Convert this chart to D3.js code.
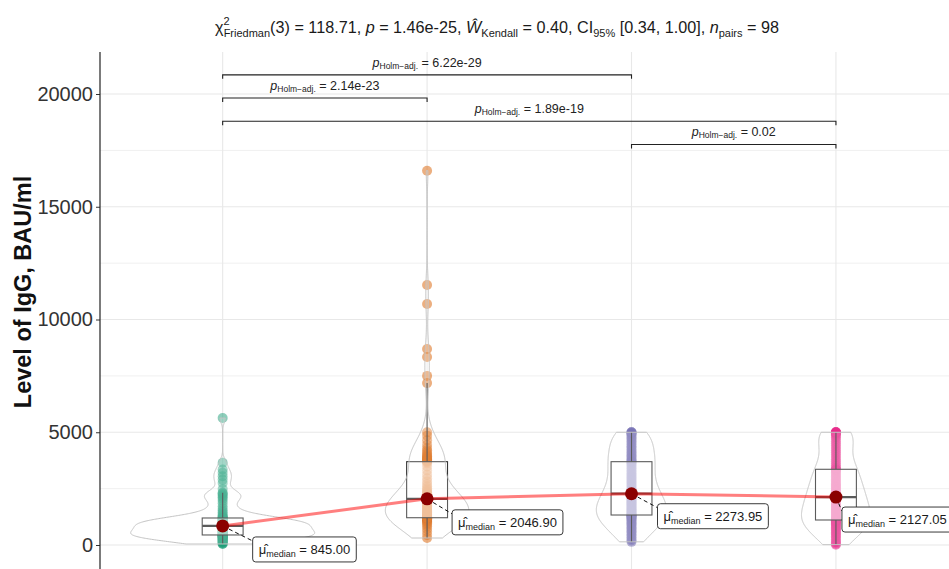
<!DOCTYPE html>
<html>
<head>
<meta charset="utf-8">
<script src="https://cdn.jsdelivr.net/npm/d3@7"></script>
<style>
  body { margin: 0; background: #fff; }
  svg { display: block; }
  text { font-family: "Liberation Sans", Arial, sans-serif; }
</style>
</head>
<body>
<svg id="chart" width="949" height="569"></svg>
<script>
// ---- data -------------------------------------------------------------
const categories = ["Visit 1", "Visit 2", "Visit 3", "Visit 4"];

const visit1 = [45, 60, 85, 110, 140, 165, 190, 210, 235, 255, 275, 290, 310, 325, 340, 355, 370, 385, 395, 405, 415, 425, 432, 438, 443,
  450, 465, 480, 500, 515, 530, 548, 565, 580, 598, 615, 630, 648, 665, 680, 700, 715, 730, 748, 765, 782, 800, 820, 840,
  850, 862, 875, 890, 905, 918, 932, 948, 962, 975, 990, 1005, 1020, 1035, 1050, 1065, 1080, 1098, 1115, 1130, 1148, 1165, 1180, 1192,
  1200, 1230, 1270, 1320, 1380, 1450, 1530, 1620, 1720, 1850, 1960, 2050, 2120, 2180, 2240, 2290, 2320, 2480, 2750, 2900, 3050, 3200, 3350, 3650, 5630];

const visit2 = [310, 450, 600, 720, 820, 900, 960, 1010, 1050, 1080, 1105, 1125, 1140, 1155, 1165, 1175, 1182, 1188, 1193, 1197, 1200, 1203, 1205, 1207, 1208,
  1215, 1240, 1270, 1300, 1330, 1360, 1390, 1420, 1455, 1490, 1525, 1560, 1600, 1640, 1680, 1720, 1760, 1800, 1840, 1880, 1920, 1960, 2000, 2040,
  2053.8, 2070, 2090, 2110, 2130, 2155, 2180, 2205, 2235, 2265, 2300, 2340, 2390, 2450, 2520, 2600, 2700, 2820, 2960, 3120, 3300, 3480, 3620, 3680,
  3700, 3720, 3745, 3770, 3800, 3830, 3865, 3900, 3940, 3990, 4050, 4120, 4200, 4300, 4450, 4650, 4850, 5000, 7180, 7500, 8340, 8690, 10690, 11530, 16600];

const visit3 = [140, 200, 270, 340, 410, 480, 550, 610, 670, 730, 790, 850, 905, 960, 1010, 1060, 1105, 1150, 1190, 1225, 1255, 1280, 1300, 1318, 1326,
  1342, 1380, 1420, 1460, 1500, 1540, 1580, 1620, 1660, 1700, 1740, 1780, 1820, 1860, 1900, 1940, 1980, 2020, 2060, 2100, 2140, 2180, 2220, 2260,
  2287.9, 2340, 2400, 2460, 2520, 2580, 2640, 2700, 2760, 2820, 2880, 2940, 3000, 3060, 3120, 3180, 3250, 3320, 3390, 3460, 3530, 3590, 3640, 3680,
  3700, 3750, 3800, 3860, 3920, 3980, 4040, 4100, 4170, 4240, 4310, 4380, 4450, 4520, 4590, 4660, 4720, 4780, 4840, 4890, 4940, 4970, 5000, 5000, 5000];

const visit4 = [15, 60, 120, 180, 250, 320, 390, 450, 510, 570, 630, 690, 740, 790, 840, 885, 925, 965, 1000, 1030, 1055, 1075, 1090, 1100, 1106,
  1118, 1160, 1200, 1245, 1290, 1335, 1380, 1425, 1470, 1515, 1560, 1605, 1650, 1695, 1740, 1785, 1830, 1875, 1920, 1960, 2000, 2040, 2080, 2115,
  2139.1, 2190, 2240, 2290, 2340, 2390, 2440, 2490, 2540, 2590, 2640, 2690, 2740, 2800, 2860, 2920, 2980, 3040, 3100, 3160, 3220, 3280, 3330, 3350,
  3360, 3430, 3510, 3600, 3700, 3800, 3900, 4000, 4100, 4200, 4300, 4400, 4500, 4600, 4700, 4780, 4850, 4900, 4940, 4970, 5000, 5000, 5000, 5000, 5000];

const yTicks = [0, 5000, 10000, 15000, 20000];

// pairwise comparisons (Holm-adjusted), drawn bottom to top
const pairFrom = [2, 0, 0, 0];
const pairTo   = [3, 3, 1, 2];
const pairP    = ["0.02", "1.89e-19", "2.14e-23", "6.22e-29"];

const groupColors = ["#1B9E77", "#D95F02", "#7570B3", "#E7298A"];

// ---- layout -----------------------------------------------------------
const svg = d3.select("#chart");
const panel = { left: 100, right: 958.6, top: 52, bottom: 620 };

const x = d3.scalePoint().domain(categories).range([panel.left, panel.right]).padding(0.6);
const step = x.step();
const y = d3.scaleLinear().domain([0, 20000]).range([545, 94]);

const groups = [visit1, visit2, visit3, visit4].map(v => v.slice().sort(d3.ascending));

// ---- grid -------------------------------------------------------------
const grid = svg.append("g");
const minorTicks = d3.range(2500, 22500, 5000);
grid.selectAll("line.minor").data(minorTicks).join("line")
  .attr("x1", panel.left).attr("x2", 949)
  .attr("y1", d => y(d)).attr("y2", d => y(d))
  .attr("stroke", "#f0f0f0").attr("stroke-width", 1);
grid.selectAll("line.major").data(yTicks).join("line")
  .attr("x1", panel.left).attr("x2", 949)
  .attr("y1", d => y(d)).attr("y2", d => y(d))
  .attr("stroke", "#e8e8e8").attr("stroke-width", 1.1);
grid.selectAll("line.vert").data(categories).join("line")
  .attr("x1", d => x(d)).attr("x2", d => x(d))
  .attr("y1", panel.top).attr("y2", 569)
  .attr("stroke", "#e8e8e8").attr("stroke-width", 1.1);

// ---- points -----------------------------------------------------------
const pts = svg.append("g");
groups.forEach((vals, i) => {
  pts.selectAll(null).data(vals).join("circle")
    .attr("cx", x(categories[i]))
    .attr("cy", d => y(d))
    .attr("r", 5)
    .attr("fill", groupColors[i])
    .attr("fill-opacity", 0.5);
});

// ---- boxplots ---------------------------------------------------------
const boxHalf = 0.1 * step;
const stats = groups.map(vals => {
  const q1 = d3.quantile(vals, 0.25), med = d3.quantile(vals, 0.5), q3 = d3.quantile(vals, 0.75);
  const iqr = q3 - q1;
  const hi = d3.max(vals.filter(v => v <= q3 + 1.5 * iqr));
  const lo = d3.min(vals.filter(v => v >= q1 - 1.5 * iqr));
  return { q1, med, q3, hi, lo };
});
const boxes = svg.append("g");
stats.forEach((s, i) => {
  const cx = x(categories[i]);
  boxes.append("line").attr("x1", cx).attr("x2", cx).attr("y1", y(s.q3)).attr("y2", y(s.hi))
    .attr("stroke", "#333").attr("stroke-width", 1.1);
  boxes.append("line").attr("x1", cx).attr("x2", cx).attr("y1", y(s.q1)).attr("y2", y(s.lo))
    .attr("stroke", "#333").attr("stroke-width", 1.1);
  boxes.append("rect").attr("x", cx - boxHalf).attr("width", 2 * boxHalf)
    .attr("y", y(s.q3)).attr("height", y(s.q1) - y(s.q3))
    .attr("fill", "#fff").attr("fill-opacity", 0.5)
    .attr("stroke", "#333").attr("stroke-width", 1.1);
  boxes.append("line").attr("x1", cx - boxHalf).attr("x2", cx + boxHalf)
    .attr("y1", y(s.med)).attr("y2", y(s.med))
    .attr("stroke", "#333").attr("stroke-width", 2.2);
});

// ---- violins (gaussian KDE, nrd0 bandwidth, area scaling) ---------------
function density(vals) {
  const n = vals.length;
  const sd = d3.deviation(vals);
  const iqr = d3.quantile(vals, 0.75) - d3.quantile(vals, 0.25);
  const bw = 0.9 * Math.min(sd, iqr / 1.34) * Math.pow(n, -0.2);
  const lo = d3.min(vals), hi = d3.max(vals);
  const k = 1 / (n * bw * Math.sqrt(2 * Math.PI));
  return d3.range(512).map(j => {
    const v = lo + (hi - lo) * j / 511;
    return [v, k * d3.sum(vals, d => Math.exp(-0.5 * ((v - d) / bw) ** 2))];
  });
}
const dens = groups.map(density);
const maxDens = d3.max(dens, d => d3.max(d, e => e[1]));
const violinHalf = 0.45 * step;
const violins = svg.append("g");
dens.forEach((d, i) => {
  const cx = x(categories[i]);
  const area = d3.area()
    .x0(e => cx - e[1] / maxDens * violinHalf)
    .x1(e => cx + e[1] / maxDens * violinHalf)
    .y(e => y(e[0]));
  violins.append("path").attr("d", area(d))
    .attr("fill", "#fff").attr("fill-opacity", 0.2)
    .attr("stroke", "#c4c4c4").attr("stroke-width", 1);
});

// ---- median path and points ---------------------------------------------
const medians = groups.map(v => d3.median(v));
svg.append("path")
  .attr("d", d3.line().x((d, i) => x(categories[i])).y(d => y(d))(medians))
  .attr("fill", "none").attr("stroke", "#ff0000").attr("stroke-opacity", 0.5).attr("stroke-width", 3);

// label offsets (repelled positions) relative to each median point
const labelOffset = [[30, 11], [25, 11], [26, 10], [6, 10]];
const labels = svg.append("g");
medians.forEach((m, i) => {
  const cx = x(categories[i]), cy = y(m);
  const lx = cx + labelOffset[i][0], ly = cy + labelOffset[i][1];
  const g = labels.append("g");
  g.append("line").attr("x1", cx).attr("y1", cy).attr("x2", lx).attr("y2", ly + 4)
    .attr("stroke", "#111").attr("stroke-width", 1).attr("stroke-dasharray", "4,3");
  const t = g.append("text").attr("x", lx + 6).attr("y", ly + 17).attr("font-size", 13).attr("fill", "#1a1a1a");
  t.append("tspan").text("μ̂");
  t.append("tspan").attr("font-size", 9).attr("dy", 3).text("median");
  t.append("tspan").attr("dy", -3).text(" = " + m.toFixed(2));
  const w = t.node().getComputedTextLength();
  g.insert("rect", "text").attr("x", lx).attr("y", ly).attr("width", w + 12).attr("height", 25)
    .attr("rx", 3).attr("fill", "#fff").attr("stroke", "#222").attr("stroke-width", 0.9);
});
svg.append("g").selectAll("circle").data(medians).join("circle")
  .attr("cx", (d, i) => x(categories[i])).attr("cy", d => y(d))
  .attr("r", 6.5).attr("fill", "#8B0000");

// ---- significance brackets ---------------------------------------------
const yMax = d3.max(groups, g => d3.max(g));
const brackets = svg.append("g");
pairP.forEach((p, i) => {
  const by = y(yMax * 1.07 + i * yMax * 0.062);
  const x1 = x(categories[pairFrom[i]]), x2 = x(categories[pairTo[i]]);
  brackets.append("path")
    .attr("d", `M${x1},${by + 4}V${by}H${x2}V${by + 4}`)
    .attr("fill", "none").attr("stroke", "#222").attr("stroke-width", 1.1);
  const t = brackets.append("text").attr("x", (x1 + x2) / 2).attr("y", by - 8)
    .attr("text-anchor", "middle").attr("font-size", 12.5).attr("fill", "#222");
  t.append("tspan").attr("font-style", "italic").text("p");
  t.append("tspan").attr("font-size", 8.5).attr("dy", 2).text("Holm\u2212adj.");
  t.append("tspan").attr("dy", -2).text(" = " + p);
});

// ---- y axis -------------------------------------------------------------
const yAxis = svg.append("g").attr("transform", `translate(${panel.left},0)`)
  .call(d3.axisLeft(y).tickValues(yTicks).tickFormat(d3.format("d")).tickSize(4).tickPadding(3));
yAxis.select(".domain").remove();
yAxis.selectAll(".tick line").attr("stroke", "#333");
yAxis.selectAll(".tick text").attr("font-size", 20).attr("fill", "#333")
  .attr("font-family", "Liberation Sans, Arial, sans-serif");
svg.append("line").attr("x1", panel.left).attr("x2", panel.left)
  .attr("y1", panel.top).attr("y2", 569).attr("stroke", "#222").attr("stroke-width", 1.2);

svg.append("text")
  .attr("transform", "translate(31,292) rotate(-90)")
  .attr("text-anchor", "middle").attr("font-size", 23.5).attr("font-weight", "bold").attr("fill", "#111")
  .text("Level of IgG, BAU/ml");

// ---- subtitle with test statistics --------------------------------------
const sub = svg.append("text").attr("x", 497).attr("y", 33).attr("text-anchor", "middle")
  .attr("font-size", 16.2).attr("fill", "#1a1a1a");
sub.append("tspan").text("χ");
sub.append("tspan").attr("font-size", 11).attr("dy", -8).text("2");
sub.append("tspan").attr("font-size", 11).attr("dx", -6).attr("dy", 12).text("Friedman");
sub.append("tspan").attr("dy", -4).text("(3) = 118.71, ");
sub.append("tspan").attr("font-style", "italic").text("p");
sub.append("tspan").text(" = 1.46e-25, ");
sub.append("tspan").attr("font-style", "italic").text("Ŵ");
sub.append("tspan").attr("font-size", 11).attr("dy", 4).text("Kendall");
sub.append("tspan").attr("dy", -4).text(" = 0.40, CI");
sub.append("tspan").attr("font-size", 11).attr("dy", 4).text("95%");
sub.append("tspan").attr("dy", -4).text(" [0.34, 1.00], ");
sub.append("tspan").attr("font-style", "italic").text("n");
sub.append("tspan").attr("font-size", 11).attr("dy", 4).text("pairs");
sub.append("tspan").attr("dy", -4).text(" = 98");
</script>
</body>
</html>
